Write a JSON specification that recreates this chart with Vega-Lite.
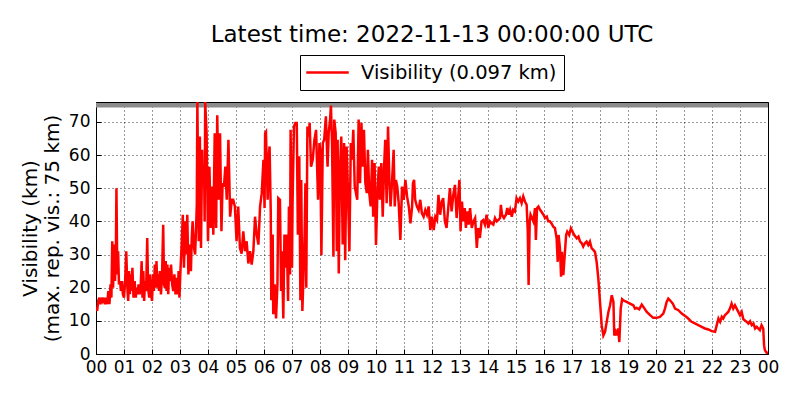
{
  "$schema": "https://vega.github.io/schema/vega-lite/v6.json",
  "width": 672,
  "height": 252,
  "autosize": "none",
  "padding": {"left": 96, "top": 102, "right": 32, "bottom": 46},
  "background": "white",
  "title": {
    "text": "Latest time: 2022-11-13 00:00:00 UTC",
    "fontSize": 23,
    "fontWeight": "normal",
    "color": "black",
    "offset": 8
  },
  "layer": [
    {
      "data": {"values": [{"v": 75}]},
      "mark": {"type": "rule", "color": "#8c8c8c", "strokeWidth": 4.5},
      "encoding": {
        "y": {
          "field": "v",
          "type": "quantitative",
          "scale": {"domain": [0, 76], "nice": false},
          "axis": {
            "title": ["Visibility (km)", "(max. rep. vis.: 75 km)"],
            "values": [0, 10, 20, 30, 40, 50, 60, 70],
            "titlePadding": 6,
            "labelPadding": 11
          }
        }
      }
    },
    {
      "data": {
        "values": [
          {"h": 0.00, "v": 14}, {"h": 0.04, "v": 13}, {"h": 0.08, "v": 16}, {"h": 0.12, "v": 17}, {"h": 0.16, "v": 15},
          {"h": 0.20, "v": 17}, {"h": 0.24, "v": 16}, {"h": 0.28, "v": 17}, {"h": 0.32, "v": 15}, {"h": 0.36, "v": 17},
          {"h": 0.40, "v": 15}, {"h": 0.44, "v": 19}, {"h": 0.48, "v": 15}, {"h": 0.52, "v": 21}, {"h": 0.55, "v": 17},
          {"h": 0.58, "v": 34}, {"h": 0.61, "v": 20}, {"h": 0.65, "v": 33}, {"h": 0.68, "v": 22}, {"h": 0.71, "v": 31},
          {"h": 0.73, "v": 50}, {"h": 0.76, "v": 24}, {"h": 0.79, "v": 31}, {"h": 0.82, "v": 21}, {"h": 0.86, "v": 22},
          {"h": 0.89, "v": 19}, {"h": 0.93, "v": 22}, {"h": 0.96, "v": 18}, {"h": 1.00, "v": 17}, {"h": 1.04, "v": 22},
          {"h": 1.08, "v": 31}, {"h": 1.12, "v": 20}, {"h": 1.15, "v": 16}, {"h": 1.18, "v": 25}, {"h": 1.21, "v": 18},
          {"h": 1.24, "v": 24}, {"h": 1.27, "v": 19}, {"h": 1.30, "v": 26}, {"h": 1.34, "v": 17}, {"h": 1.38, "v": 22},
          {"h": 1.42, "v": 17}, {"h": 1.45, "v": 20}, {"h": 1.48, "v": 18}, {"h": 1.52, "v": 21}, {"h": 1.56, "v": 18},
          {"h": 1.60, "v": 21}, {"h": 1.63, "v": 28}, {"h": 1.66, "v": 17}, {"h": 1.69, "v": 25}, {"h": 1.72, "v": 16},
          {"h": 1.75, "v": 22}, {"h": 1.79, "v": 19}, {"h": 1.83, "v": 35}, {"h": 1.86, "v": 20}, {"h": 1.90, "v": 17},
          {"h": 1.93, "v": 24}, {"h": 1.96, "v": 19}, {"h": 2.00, "v": 16}, {"h": 2.04, "v": 24}, {"h": 2.07, "v": 19},
          {"h": 2.10, "v": 27}, {"h": 2.13, "v": 20}, {"h": 2.16, "v": 28}, {"h": 2.19, "v": 20}, {"h": 2.22, "v": 24},
          {"h": 2.25, "v": 19}, {"h": 2.28, "v": 25}, {"h": 2.32, "v": 18}, {"h": 2.36, "v": 24}, {"h": 2.40, "v": 39},
          {"h": 2.43, "v": 21}, {"h": 2.46, "v": 20}, {"h": 2.49, "v": 28}, {"h": 2.52, "v": 19}, {"h": 2.55, "v": 27},
          {"h": 2.58, "v": 18}, {"h": 2.61, "v": 26}, {"h": 2.64, "v": 22}, {"h": 2.68, "v": 27}, {"h": 2.72, "v": 21},
          {"h": 2.76, "v": 19}, {"h": 2.80, "v": 24}, {"h": 2.84, "v": 18}, {"h": 2.88, "v": 23}, {"h": 2.92, "v": 18},
          {"h": 2.95, "v": 25}, {"h": 2.98, "v": 17}, {"h": 3.02, "v": 26}, {"h": 3.06, "v": 33}, {"h": 3.10, "v": 42},
          {"h": 3.14, "v": 26}, {"h": 3.19, "v": 40}, {"h": 3.22, "v": 30}, {"h": 3.26, "v": 42}, {"h": 3.30, "v": 24},
          {"h": 3.34, "v": 30}, {"h": 3.36, "v": 33}, {"h": 3.39, "v": 25}, {"h": 3.42, "v": 35}, {"h": 3.45, "v": 40},
          {"h": 3.50, "v": 32}, {"h": 3.54, "v": 30}, {"h": 3.57, "v": 37}, {"h": 3.60, "v": 45}, {"h": 3.62, "v": 76},
          {"h": 3.65, "v": 50}, {"h": 3.67, "v": 34}, {"h": 3.71, "v": 65.6}, {"h": 3.75, "v": 32}, {"h": 3.79, "v": 61.6},
          {"h": 3.81, "v": 51.5}, {"h": 3.86, "v": 56.5}, {"h": 3.88, "v": 40}, {"h": 3.90, "v": 76}, {"h": 3.95, "v": 66.6},
          {"h": 4.00, "v": 34}, {"h": 4.05, "v": 56.5}, {"h": 4.10, "v": 38}, {"h": 4.14, "v": 50.5}, {"h": 4.19, "v": 36},
          {"h": 4.24, "v": 66.6}, {"h": 4.29, "v": 38}, {"h": 4.33, "v": 72}, {"h": 4.38, "v": 46.5}, {"h": 4.43, "v": 66.6},
          {"h": 4.48, "v": 37}, {"h": 4.52, "v": 51.5}, {"h": 4.57, "v": 50.5}, {"h": 4.62, "v": 56.5}, {"h": 4.67, "v": 46.5},
          {"h": 4.73, "v": 64.6}, {"h": 4.79, "v": 41.4}, {"h": 4.85, "v": 46.5}, {"h": 4.90, "v": 46.5}, {"h": 4.96, "v": 44.5},
          {"h": 5.02, "v": 34}, {"h": 5.08, "v": 44.5}, {"h": 5.14, "v": 32}, {"h": 5.20, "v": 30.3}, {"h": 5.26, "v": 37},
          {"h": 5.32, "v": 31}, {"h": 5.38, "v": 34}, {"h": 5.44, "v": 27.3}, {"h": 5.50, "v": 31}, {"h": 5.56, "v": 27},
          {"h": 5.62, "v": 31}, {"h": 5.68, "v": 41.4}, {"h": 5.74, "v": 36}, {"h": 5.80, "v": 33}, {"h": 5.86, "v": 44.5},
          {"h": 5.92, "v": 48.5}, {"h": 5.98, "v": 58.6}, {"h": 6.02, "v": 44}, {"h": 6.04, "v": 66.6}, {"h": 6.07, "v": 67},
          {"h": 6.13, "v": 46.5}, {"h": 6.17, "v": 59.6}, {"h": 6.20, "v": 62.6}, {"h": 6.24, "v": 43.4}, {"h": 6.26, "v": 16.2},
          {"h": 6.31, "v": 36}, {"h": 6.33, "v": 12}, {"h": 6.38, "v": 21}, {"h": 6.43, "v": 10.7}, {"h": 6.48, "v": 21},
          {"h": 6.51, "v": 47}, {"h": 6.57, "v": 46.5}, {"h": 6.61, "v": 19}, {"h": 6.64, "v": 31}, {"h": 6.69, "v": 10.7},
          {"h": 6.73, "v": 36}, {"h": 6.76, "v": 26}, {"h": 6.81, "v": 36}, {"h": 6.86, "v": 16}, {"h": 6.89, "v": 44.5},
          {"h": 6.93, "v": 24}, {"h": 6.95, "v": 67.6}, {"h": 7.00, "v": 26}, {"h": 7.02, "v": 45.5}, {"h": 7.07, "v": 68.6},
          {"h": 7.12, "v": 69.7}, {"h": 7.17, "v": 69.7}, {"h": 7.21, "v": 36}, {"h": 7.26, "v": 59.6}, {"h": 7.30, "v": 16.2},
          {"h": 7.33, "v": 52.5}, {"h": 7.37, "v": 13}, {"h": 7.40, "v": 21}, {"h": 7.45, "v": 36}, {"h": 7.48, "v": 51.5},
          {"h": 7.51, "v": 20}, {"h": 7.55, "v": 68.6}, {"h": 7.60, "v": 65.6}, {"h": 7.63, "v": 69.7}, {"h": 7.68, "v": 56.5},
          {"h": 7.74, "v": 58.6}, {"h": 7.80, "v": 64.6}, {"h": 7.86, "v": 67.6}, {"h": 7.89, "v": 58.6}, {"h": 7.93, "v": 46.5},
          {"h": 7.98, "v": 63.6}, {"h": 8.01, "v": 61.6}, {"h": 8.05, "v": 29.8}, {"h": 8.10, "v": 63.6}, {"h": 8.15, "v": 64.6},
          {"h": 8.21, "v": 71.7}, {"h": 8.27, "v": 56.5}, {"h": 8.31, "v": 66.6}, {"h": 8.36, "v": 70.7}, {"h": 8.39, "v": 74.9},
          {"h": 8.43, "v": 63.6}, {"h": 8.48, "v": 29.3}, {"h": 8.51, "v": 70.7}, {"h": 8.56, "v": 66.6}, {"h": 8.60, "v": 31},
          {"h": 8.63, "v": 64.6}, {"h": 8.67, "v": 24.3}, {"h": 8.71, "v": 54.5}, {"h": 8.76, "v": 65.6}, {"h": 8.81, "v": 33},
          {"h": 8.86, "v": 63.6}, {"h": 8.90, "v": 28.3}, {"h": 8.95, "v": 62.6}, {"h": 9.00, "v": 48.5}, {"h": 9.05, "v": 31},
          {"h": 9.10, "v": 63.6}, {"h": 9.14, "v": 58.6}, {"h": 9.19, "v": 67.6}, {"h": 9.24, "v": 50.5}, {"h": 9.33, "v": 46.5},
          {"h": 9.38, "v": 70.7}, {"h": 9.43, "v": 51.5}, {"h": 9.48, "v": 69.7}, {"h": 9.52, "v": 56.5}, {"h": 9.57, "v": 67.6},
          {"h": 9.62, "v": 51.5}, {"h": 9.67, "v": 48.5}, {"h": 9.71, "v": 61.6}, {"h": 9.76, "v": 48.5}, {"h": 9.81, "v": 44.5},
          {"h": 9.86, "v": 58.6}, {"h": 9.90, "v": 41.4}, {"h": 9.95, "v": 57.6}, {"h": 10.00, "v": 32.9}, {"h": 10.05, "v": 48.5},
          {"h": 10.10, "v": 56.5}, {"h": 10.14, "v": 46.5}, {"h": 10.19, "v": 57.6}, {"h": 10.24, "v": 41.4}, {"h": 10.29, "v": 56.5},
          {"h": 10.33, "v": 64.6}, {"h": 10.38, "v": 45.5}, {"h": 10.43, "v": 68.6}, {"h": 10.48, "v": 51.5}, {"h": 10.52, "v": 44.5},
          {"h": 10.57, "v": 51.5}, {"h": 10.63, "v": 61.6}, {"h": 10.67, "v": 44.5}, {"h": 10.71, "v": 52.5}, {"h": 10.76, "v": 50.5},
          {"h": 10.81, "v": 45.5}, {"h": 10.87, "v": 34.4}, {"h": 10.93, "v": 50.5}, {"h": 10.99, "v": 46.5}, {"h": 11.05, "v": 52.5},
          {"h": 11.11, "v": 47.5}, {"h": 11.17, "v": 44.5}, {"h": 11.23, "v": 39.4}, {"h": 11.29, "v": 44.5}, {"h": 11.32, "v": 51.5},
          {"h": 11.36, "v": 52.5}, {"h": 11.40, "v": 46.5}, {"h": 11.46, "v": 44.5}, {"h": 11.52, "v": 43.4}, {"h": 11.58, "v": 46.5},
          {"h": 11.64, "v": 42.4}, {"h": 11.70, "v": 41.4}, {"h": 11.76, "v": 43.4}, {"h": 11.82, "v": 42}, {"h": 11.88, "v": 44.5},
          {"h": 11.94, "v": 37.4}, {"h": 12.00, "v": 41.4}, {"h": 12.06, "v": 37.4}, {"h": 12.12, "v": 41.4}, {"h": 12.18, "v": 40.4},
          {"h": 12.23, "v": 48}, {"h": 12.29, "v": 42}, {"h": 12.35, "v": 46}, {"h": 12.40, "v": 47}, {"h": 12.46, "v": 40},
          {"h": 12.52, "v": 38}, {"h": 12.58, "v": 44}, {"h": 12.64, "v": 50}, {"h": 12.70, "v": 43}, {"h": 12.76, "v": 48},
          {"h": 12.82, "v": 51}, {"h": 12.88, "v": 41}, {"h": 12.94, "v": 48}, {"h": 12.98, "v": 52.5}, {"h": 13.02, "v": 37},
          {"h": 13.07, "v": 46}, {"h": 13.12, "v": 40}, {"h": 13.17, "v": 44}, {"h": 13.21, "v": 38}, {"h": 13.26, "v": 43},
          {"h": 13.31, "v": 39}, {"h": 13.36, "v": 44}, {"h": 13.42, "v": 38}, {"h": 13.48, "v": 40}, {"h": 13.54, "v": 41},
          {"h": 13.60, "v": 32}, {"h": 13.65, "v": 38}, {"h": 13.71, "v": 35}, {"h": 13.77, "v": 40}, {"h": 13.83, "v": 40.4},
          {"h": 13.89, "v": 39}, {"h": 13.95, "v": 42}, {"h": 14.01, "v": 38}, {"h": 14.07, "v": 40}, {"h": 14.13, "v": 39.4},
          {"h": 14.19, "v": 39}, {"h": 14.25, "v": 41}, {"h": 14.31, "v": 40}, {"h": 14.37, "v": 40.4}, {"h": 14.43, "v": 41},
          {"h": 14.46, "v": 45}, {"h": 14.50, "v": 42}, {"h": 14.57, "v": 41}, {"h": 14.64, "v": 42}, {"h": 14.69, "v": 44},
          {"h": 14.74, "v": 42}, {"h": 14.79, "v": 43.5}, {"h": 14.85, "v": 41.4}, {"h": 14.90, "v": 43.5}, {"h": 14.96, "v": 43},
          {"h": 15.02, "v": 47}, {"h": 15.08, "v": 46}, {"h": 15.14, "v": 47}, {"h": 15.20, "v": 45.5}, {"h": 15.26, "v": 47.5},
          {"h": 15.32, "v": 46}, {"h": 15.38, "v": 45}, {"h": 15.42, "v": 37}, {"h": 15.45, "v": 20.8}, {"h": 15.49, "v": 40},
          {"h": 15.52, "v": 42}, {"h": 15.57, "v": 41}, {"h": 15.62, "v": 40}, {"h": 15.68, "v": 44}, {"h": 15.71, "v": 34.4},
          {"h": 15.75, "v": 44}, {"h": 15.80, "v": 44.5}, {"h": 15.86, "v": 43.5}, {"h": 15.98, "v": 42}, {"h": 16.04, "v": 41},
          {"h": 16.10, "v": 41.4}, {"h": 16.15, "v": 40}, {"h": 16.21, "v": 40}, {"h": 16.27, "v": 39.4}, {"h": 16.33, "v": 38.4},
          {"h": 16.39, "v": 38}, {"h": 16.45, "v": 35}, {"h": 16.49, "v": 27.8}, {"h": 16.52, "v": 35.9}, {"h": 16.57, "v": 31.9},
          {"h": 16.61, "v": 23.3}, {"h": 16.64, "v": 30.8}, {"h": 16.69, "v": 23.8}, {"h": 16.74, "v": 29.8}, {"h": 16.79, "v": 35.9},
          {"h": 16.83, "v": 36.9}, {"h": 16.90, "v": 35.9}, {"h": 16.96, "v": 37.9}, {"h": 17.02, "v": 36.9}, {"h": 17.08, "v": 35.9},
          {"h": 17.17, "v": 34.9}, {"h": 17.23, "v": 35.4}, {"h": 17.29, "v": 33.9}, {"h": 17.35, "v": 33.4}, {"h": 17.40, "v": 32.4},
          {"h": 17.46, "v": 33.4}, {"h": 17.52, "v": 33.9}, {"h": 17.58, "v": 32.9}, {"h": 17.64, "v": 33.9}, {"h": 17.70, "v": 31.9},
          {"h": 17.76, "v": 31.4}, {"h": 17.82, "v": 30.8}, {"h": 17.88, "v": 27.8}, {"h": 17.94, "v": 22.8}, {"h": 18.00, "v": 15.7},
          {"h": 18.06, "v": 8.7}, {"h": 18.12, "v": 5.6}, {"h": 18.18, "v": 6.7}, {"h": 18.24, "v": 9.7}, {"h": 18.30, "v": 12.7},
          {"h": 18.36, "v": 14.7}, {"h": 18.42, "v": 17.7}, {"h": 18.48, "v": 15.7}, {"h": 18.51, "v": 5.6}, {"h": 18.56, "v": 6.7},
          {"h": 18.60, "v": 5.6}, {"h": 18.65, "v": 7.7}, {"h": 18.69, "v": 3.6}, {"h": 18.74, "v": 13.7}, {"h": 18.79, "v": 16.5},
          {"h": 18.83, "v": 16.2}, {"h": 18.95, "v": 15.7}, {"h": 19.07, "v": 15.2}, {"h": 19.19, "v": 14.7}, {"h": 19.25, "v": 13.7},
          {"h": 19.31, "v": 13.9}, {"h": 19.40, "v": 13.5}, {"h": 19.49, "v": 14.9}, {"h": 19.55, "v": 14.2}, {"h": 19.67, "v": 12.7},
          {"h": 19.79, "v": 11.7}, {"h": 19.90, "v": 10.9}, {"h": 20.02, "v": 10.9}, {"h": 20.14, "v": 11.2}, {"h": 20.26, "v": 12.2},
          {"h": 20.32, "v": 13.7}, {"h": 20.38, "v": 15.7}, {"h": 20.44, "v": 16.7}, {"h": 20.50, "v": 16.2}, {"h": 20.60, "v": 15.2},
          {"h": 20.68, "v": 13.7}, {"h": 20.80, "v": 13.2}, {"h": 20.92, "v": 12.2}, {"h": 21.04, "v": 11.5}, {"h": 21.15, "v": 10.7},
          {"h": 21.27, "v": 9.7}, {"h": 21.39, "v": 9.2}, {"h": 21.51, "v": 8.7}, {"h": 21.63, "v": 8.2}, {"h": 21.75, "v": 7.7},
          {"h": 21.87, "v": 7.4}, {"h": 21.99, "v": 6.9}, {"h": 22.11, "v": 6.7}, {"h": 22.17, "v": 8.7}, {"h": 22.23, "v": 10.7},
          {"h": 22.29, "v": 9.7}, {"h": 22.35, "v": 11.2}, {"h": 22.40, "v": 10.7}, {"h": 22.46, "v": 11.7}, {"h": 22.52, "v": 12.2},
          {"h": 22.58, "v": 12.7}, {"h": 22.64, "v": 13.7}, {"h": 22.70, "v": 15.2}, {"h": 22.76, "v": 13.7}, {"h": 22.82, "v": 14.7},
          {"h": 22.88, "v": 13.7}, {"h": 22.94, "v": 12.7}, {"h": 23.00, "v": 11.7}, {"h": 23.06, "v": 12.7}, {"h": 23.12, "v": 10.5},
          {"h": 23.24, "v": 9.7}, {"h": 23.30, "v": 9.2}, {"h": 23.36, "v": 9.9}, {"h": 23.42, "v": 8.7}, {"h": 23.48, "v": 9.2},
          {"h": 23.54, "v": 7.7}, {"h": 23.60, "v": 8.2}, {"h": 23.65, "v": 7.7}, {"h": 23.71, "v": 7.2}, {"h": 23.77, "v": 8.7},
          {"h": 23.83, "v": 7.7}, {"h": 23.86, "v": 2.6}, {"h": 23.89, "v": 1.1}, {"h": 23.95, "v": 0.4}, {"h": 24.00, "v": 0.4}
        ]
      },
      "mark": {"type": "line", "strokeWidth": 2.5, "clip": true},
      "encoding": {
        "x": {
          "field": "h",
          "type": "quantitative",
          "scale": {"domain": [0, 24], "nice": false},
          "axis": {
            "title": null,
            "values": [0, 1, 2, 3, 4, 5, 6, 7, 8, 9, 10, 11, 12, 13, 14, 15, 16, 17, 18, 19, 20, 21, 22, 23, 24],
            "labelExpr": "datum.value == 24 ? '00' : (datum.value < 10 ? '0' + datum.value : '' + datum.value)",
            "labelPadding": 10
          }
        },
        "y": {
          "field": "v",
          "type": "quantitative",
          "scale": {"domain": [0, 76], "nice": false},
          "axis": {
            "title": ["Visibility (km)", "(max. rep. vis.: 75 km)"],
            "values": [0, 10, 20, 30, 40, 50, 60, 70],
            "titlePadding": 6,
            "labelPadding": 11
          }
        },
        "color": {
          "datum": "Visibility (0.097 km)",
          "scale": {"range": ["red"]},
          "legend": {
            "title": null,
            "orient": "none",
            "legendX": 204,
            "legendY": -47,
            "symbolType": "M-2.5,0L2.5,0",
            "symbolSize": 289,
            "symbolStrokeWidth": 2.5,
            "symbolOffset": 10,
            "labelOffset": 23.5,
            "labelFontSize": 19.5,
            "labelLimit": 400,
            "labelColor": "black",
            "strokeColor": "black",
            "fillColor": "white",
            "padding": 7.5
          }
        }
      }
    }
  ],
  "config": {
    "font": "DejaVu Sans",
    "view": {"stroke": "black", "strokeWidth": 1},
    "axis": {
      "domain": false,
      "grid": true,
      "gridColor": "black",
      "gridDash": [1, 3],
      "gridWidth": 0.8,
      "gridOpacity": 1,
      "ticks": true,
      "tickSize": -5,
      "tickColor": "black",
      "labelOverlap": false,
      "labelFlush": false,
      "labelFontSize": 17,
      "labelColor": "black",
      "titleFontSize": 20,
      "titleFontWeight": "normal",
      "titleColor": "black"
    }
  }
}
